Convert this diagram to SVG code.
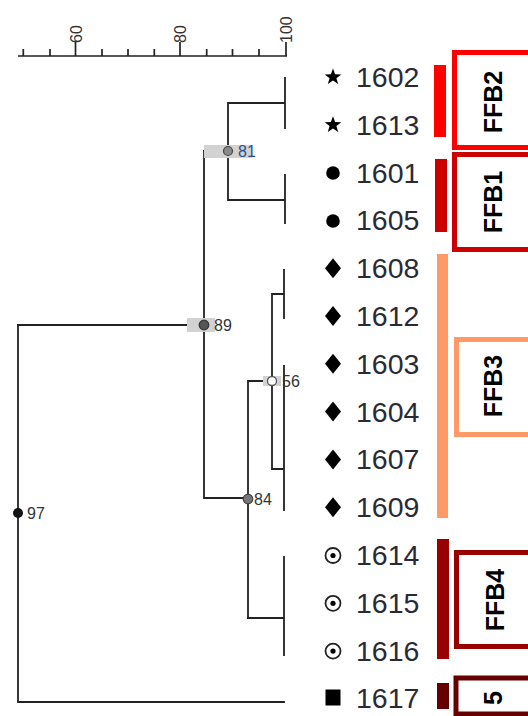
<svg xmlns="http://www.w3.org/2000/svg" width="528" height="716" viewBox="0 0 528 716">
  <style>
    .ax { stroke: #222; stroke-width: 1.7; fill: none; }
    .axl { font-family: "Liberation Sans", Arial, sans-serif; font-size: 16px; fill: #333; }
    .br { stroke: #222; stroke-width: 1.8; fill: none; stroke-linecap: square; }
    .hl { fill: #d2d2d2; }
    .nl { font-family: "Liberation Sans", Arial, sans-serif; font-size: 16px; fill: #333; }
    .lab { font-family: "Liberation Sans", Arial, sans-serif; font-size: 28.5px; fill: #2a2a35; }
    .sym { fill: #000; }
    .grp { font-family: "Liberation Sans", Arial, sans-serif; font-size: 25px; font-weight: bold; fill: #000; }
    .box { fill: #fff; stroke-width: 5; }
  </style>

  <!-- similarity scale -->
  <g id="scale">
    <path class="ax" d="M18 56H287M23.3 49V56M50 49V56M75.5 42V56M102 49V56M128 49V56M154.3 49V56M180 42V56M206.7 49V56M232.5 49V56M259 49V56M286 42V56"/>
    <text class="axl" transform="translate(81.5 43) rotate(-90)">60</text>
    <text class="axl" transform="translate(186 43) rotate(-90)">80</text>
    <text class="axl" transform="translate(292 43) rotate(-90)">100</text>
  </g>

  <!-- dendrogram branches -->
  <g id="connectors">
    <path class="br" d="M285 78V128M228 103H285M285 175V223M228 200H285M228 103V200M204 151H228"/>
    <path class="br" d="M204 151V498M18 325H204M204 498H248M248 381V618M248 381H272"/>
    <path class="br" d="M272 294V469M272 294H284M284 270V318M272 469H284M284 366V510"/>
    <path class="br" d="M248 618H284M284 557V655M18 325V702M18 702H284"/>
  </g>

  <!-- internal nodes with support values -->
  <g id="node-81">
    <rect class="hl" x="204" y="145" width="48" height="13"/>
    <circle cx="228" cy="151" r="4.5" fill="#8a8a8a" stroke="#444" stroke-width="1.2"/>
    <text class="nl" x="238" y="157" style="fill:#2c4f8f">81</text>
  </g>
  <g id="node-89">
    <rect class="hl" x="187" y="318" width="28" height="14"/>
    <circle cx="204" cy="325" r="4.8" fill="#555" stroke="#333" stroke-width="1.2"/>
    <text class="nl" x="214" y="331">89</text>
  </g>
  <g id="node-56">
    <rect class="hl" x="263" y="376" width="18" height="10"/>
    <circle cx="272" cy="381" r="4.5" fill="#fff" stroke="#555" stroke-width="1.3"/>
    <text class="nl" x="282" y="387">56</text>
  </g>
  <g id="node-84">
    <circle cx="248" cy="499" r="4.8" fill="#777" stroke="#444" stroke-width="1.2"/>
    <text class="nl" x="254" y="505">84</text>
  </g>
  <g id="node-97">
    <circle cx="18" cy="513" r="5" fill="#111"/>
    <text class="nl" x="27" y="519">97</text>
  </g>

  <!-- isolates -->
  <g id="leaf-1602">
    <polygon class="sym" points="333,68.5 335.1,74.3 341.3,74.4 336.4,78.2 338.2,84.1 333,80.6 327.8,84.1 329.6,78.2 324.7,74.4 330.9,74.3"/>
    <text class="lab" x="356" y="87">1602</text>
  </g>
  <g id="leaf-1613">
    <polygon class="sym" points="333,116.3 335.1,122.1 341.3,122.2 336.4,126 338.2,131.9 333,128.4 327.8,131.9 329.6,126 324.7,122.2 330.9,122.1"/>
    <text class="lab" x="356" y="134.8">1613</text>
  </g>
  <g id="leaf-1601">
    <circle class="sym" cx="333" cy="173" r="6.8"/>
    <text class="lab" x="356" y="182.6">1601</text>
  </g>
  <g id="leaf-1605">
    <circle class="sym" cx="333" cy="221" r="6.8"/>
    <text class="lab" x="356" y="230.4">1605</text>
  </g>
  <g id="leaf-1608">
    <polygon class="sym" points="333,258.2 341,268.2 333,278.2 325,268.2"/>
    <text class="lab" x="356" y="278.2">1608</text>
  </g>
  <g id="leaf-1612">
    <polygon class="sym" points="333,306 341,316 333,326 325,316"/>
    <text class="lab" x="356" y="326">1612</text>
  </g>
  <g id="leaf-1603">
    <polygon class="sym" points="333,353.8 341,363.8 333,373.8 325,363.8"/>
    <text class="lab" x="356" y="373.8">1603</text>
  </g>
  <g id="leaf-1604">
    <polygon class="sym" points="333,401.6 341,411.6 333,421.6 325,411.6"/>
    <text class="lab" x="356" y="421.6">1604</text>
  </g>
  <g id="leaf-1607">
    <polygon class="sym" points="333,449.4 341,459.4 333,469.4 325,459.4"/>
    <text class="lab" x="356" y="469.4">1607</text>
  </g>
  <g id="leaf-1609">
    <polygon class="sym" points="333,497.2 341,507.2 333,517.2 325,507.2"/>
    <text class="lab" x="356" y="517.2">1609</text>
  </g>
  <g id="leaf-1614">
    <circle cx="333" cy="555.5" r="7.5" fill="none" stroke="#222" stroke-width="1.8"/>
    <circle class="sym" cx="333" cy="555.5" r="2.6"/>
    <text class="lab" x="356" y="565">1614</text>
  </g>
  <g id="leaf-1615">
    <circle cx="333" cy="603.3" r="7.5" fill="none" stroke="#222" stroke-width="1.8"/>
    <circle class="sym" cx="333" cy="603.3" r="2.6"/>
    <text class="lab" x="356" y="612.8">1615</text>
  </g>
  <g id="leaf-1616">
    <circle cx="333" cy="651.1" r="7.5" fill="none" stroke="#222" stroke-width="1.8"/>
    <circle class="sym" cx="333" cy="651.1" r="2.6"/>
    <text class="lab" x="356" y="660.6">1616</text>
  </g>
  <g id="leaf-1617">
    <rect class="sym" x="325.5" y="689.5" width="15" height="16"/>
    <text class="lab" x="356" y="708.4">1617</text>
  </g>

  <!-- cluster bars and labels -->
  <g id="FFB2">
    <rect x="434" y="65" width="12" height="72" fill="#ff0000"/>
    <rect class="box" x="454.5" y="52.5" width="80" height="95" stroke="#ff0000"/>
    <text class="grp" text-anchor="middle" transform="translate(502 102) rotate(-90)">FFB2</text>
  </g>
  <g id="FFB1">
    <rect x="435" y="159" width="12" height="73" fill="#cc0000"/>
    <rect class="box" x="454.5" y="154.5" width="80" height="95" stroke="#cc0000"/>
    <text class="grp" text-anchor="middle" transform="translate(502 202) rotate(-90)">FFB1</text>
  </g>
  <g id="FFB3">
    <rect x="437" y="254" width="11" height="264" fill="#ff9966"/>
    <rect class="box" x="456.5" y="339.5" width="80" height="95" stroke="#ff9966"/>
    <text class="grp" text-anchor="middle" transform="translate(502 386) rotate(-90)">FFB3</text>
  </g>
  <g id="FFB4">
    <rect x="437" y="539" width="12" height="120" fill="#990000"/>
    <rect class="box" x="456.5" y="552.5" width="80" height="94" stroke="#990000"/>
    <text class="grp" text-anchor="middle" transform="translate(504 600) rotate(-90)">FFB4</text>
  </g>
  <g id="cluster-5">
    <rect x="437" y="683" width="12" height="26" fill="#660000"/>
    <rect class="box" x="456" y="678" width="80" height="36" stroke="#660000" stroke-width="4"/>
    <text class="grp" text-anchor="middle" transform="translate(502 698) rotate(-90)">5</text>
  </g>
</svg>
